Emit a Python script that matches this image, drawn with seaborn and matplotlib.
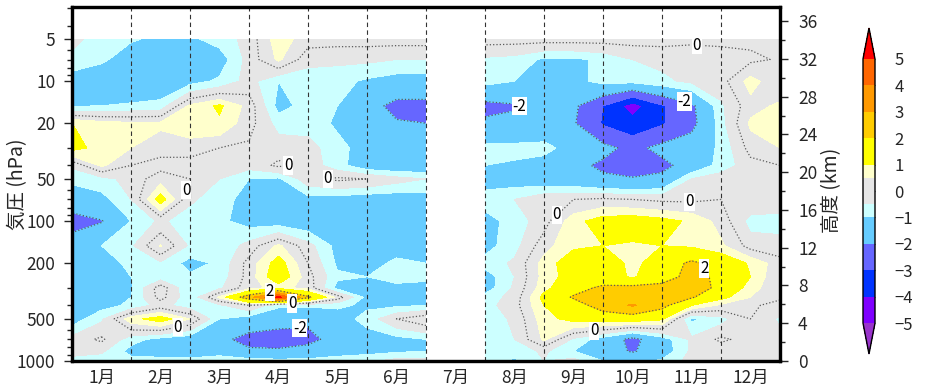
import numpy as np
import matplotlib
matplotlib.use("Agg")
import matplotlib.pyplot as plt
from matplotlib.ticker import FixedLocator, LogLocator, MultipleLocator, NullFormatter
import seaborn as sns

# ── data: anomaly (time x pressure), July missing ─────────────────
nan = np.nan
month_pos = [0.0, 0.5, 1.0, 1.5, 2.0, 2.5, 3.0, 3.5, 4.0, 4.5, 5.0, 5.5, 6.0,
             6.5, 7.0, 7.5, 8.0, 8.5, 9.0, 9.5, 10.0, 10.5, 11.0, 11.5, 12.0]
pressure = [5, 7, 10, 15, 20, 30, 40, 50, 70, 100, 150, 200, 250, 300, 350,
            400, 500, 700, 850, 1000]

a5 = [-0.3, -0.8, -0.95, -1.1, -1.1, -0.8, -0.3, 0.8, 0.2, 0.2, 0.2, 0.2, 0.2, nan,
      0.2, 0.2, 0.2, 0.2, 0.2, 0.2, 0.2, 0.1, 0.1, 0.1, 0.0]
a7 = [-0.7, -0.9, -1.3, -1.5, -1.5, -1.3, -0.3, 0.6, -0.3, -0.4, -0.4, -0.5, -0.5, nan,
      -0.6, -0.7, -1.1, -1.1, -0.9, -0.5, -0.4, -0.3, -0.2, -0.1, 0.05]
a10 = [-1.3, -1.5, -1.6, -1.5, -1.2, -0.9, -0.3, -1.0, -0.9, -0.8, -1.1, -1.3, -1.3, nan,
       -0.8, -1.0, -1.3, -1.2, -0.8, -0.8, -0.6, -0.4, -0.2, 0.7, 0.1]
a15 = [-1.05, -1.0, -0.9, -0.8, 0.6, 1.1, 0.3, -1.2, -0.8, -1.0, -1.6, -2.3, -2.3, nan,
       -2.3, -2.1, -1.5, -1.8, -3.0, -4.5, -3.1, -2.2, -0.6, 0.3, 0.6]
a20 = [1.0, 0.7, 0.6, 0.6, 1.0, 0.9, 0.2, -0.7, -0.7, -1.1, -1.6, -1.9, -2.0, nan,
       -1.8, -1.7, -1.5, -1.9, -3.1, -3.6, -3.1, -2.3, -0.7, 0.6, 0.8]
a30 = [1.2, 0.8, 0.5, 0.2, 0.1, 0.0, -0.1, -0.2, -0.3, -0.8, -1.3, -1.4, -1.4, nan,
       -0.8, -0.8, -0.8, -1.3, -1.7, -2.3, -1.7, -1.4, -0.9, 0.2, 0.5]
a40 = [-0.4, 0.6, 0.0, -0.2, -0.1, -0.2, -0.3, 0.1, -0.2, -0.8, -1.4, -1.5, -1.5, nan,
       -1.0, -1.1, -1.3, -1.7, -2.2, -2.6, -2.3, -1.5, -0.8, -0.2, 0.0]
a50 = [-0.9, -0.7, -0.3, 0.3, 0.0, -0.5, -1.0, -1.1, -0.2, 0.1, 0.0, -0.3, -0.5, nan,
       -1.2, -1.3, -1.4, -1.5, -1.8, -1.9, -1.7, -0.5, -0.2, -0.1, -0.2]
a70 = [-1.3, -1.2, -0.5, 1.3, -0.4, -0.8, -1.2, -1.3, -1.2, -1.3, -1.4, -1.4, -1.3, nan,
       -0.8, -0.5, -0.1, 0.0, 0.1, 0.0, -0.1, -0.1, 0.0, -0.1, -0.2]
a100 = [-2.5, -2.05, -1.0, -0.4, -0.8, -0.9, -1.2, -1.3, -1.4, -1.3, -1.3, -1.3, -1.3, nan,
        -1.2, -0.8, -0.2, 0.8, 1.3, 1.4, 1.2, 0.9, 0.3, -0.7, -0.7]
a150 = [-1.3, -1.0, -0.6, 0.55, -0.6, -0.9, -0.3, 0.6, -0.3, -1.2, -1.3, -1.2, -1.1, nan,
        -1.2, -0.7, 0.3, 0.9, 1.0, 0.9, 1.0, 0.9, 0.6, -0.2, -0.3]
a200 = [-1.4, -1.2, -0.9, -0.6, -1.2, -0.9, 0.2, 1.3, 0.0, -1.1, -1.2, -0.9, -1.0, nan,
        -0.8, -0.4, 0.7, 1.4, 1.5, 0.8, 1.4, 2.2, 1.6, 0.9, 0.2]
a250 = [-1.3, -1.4, -1.0, -0.8, -0.9, -0.8, 0.2, 1.5, 0.2, -0.9, -1.0, -0.6, -0.8, nan,
        -1.3, -0.5, 0.7, 1.3, 1.4, 0.9, 1.6, 2.3, 1.8, 1.0, 0.0]
a300 = [-1.2, -1.5, -1.1, 0.3, -1.0, -0.6, 0.3, 0.7, 0.3, -1.2, -1.3, -1.3, -1.3, nan,
        -1.3, -0.4, 0.8, 1.6, 2.2, 2.3, 2.3, 2.4, 1.8, 0.7, 0.1]
a350 = [-1.1, -1.3, -1.0, 0.2, -0.9, 0.6, 2.6, 5.3, 2.2, 0.3, -1.2, -1.2, -1.2, nan,
        -0.8, -0.3, 1.2, 2.1, 2.4, 2.5, 2.3, 2.1, 1.2, 0.5, 0.1]
a400 = [-1.0, -1.2, -0.9, -0.3, -0.8, -0.6, 0.0, -0.9, -0.9, -0.9, -1.1, -1.1, -1.0, nan,
        -0.7, -0.2, 1.0, 1.5, 2.5, 3.1, 2.3, 1.0, 0.4, 0.1, -0.2]
a500 = [-1.3, -0.6, 0.8, 1.3, 0.5, -1.0, -1.3, -1.5, -1.8, -1.3, -0.8, 0.0, 0.4, nan,
        -0.8, -0.4, 0.8, 1.2, 1.3, 1.4, 1.1, -1.1, -0.7, 0.0, -0.6]
a700 = [-0.3, 0.1, -0.8, -1.2, -1.4, -1.7, -2.4, -2.6, -2.3, -1.6, -1.3, -1.2, -1.0, nan,
        -0.8, -0.5, 0.6, -0.6, -1.3, -2.3, -1.3, -0.4, 0.1, -0.2, -0.3]
a850 = [-0.3, -0.4, -1.2, -1.3, -1.4, -1.5, -1.8, -1.8, -1.6, -1.3, -1.2, -1.1, -1.0, nan,
        -0.8, -0.8, -0.4, -1.0, -1.5, -2.1, -1.4, -0.4, -0.3, -0.2, -0.4]
a1000 = [-0.7, -0.8, -0.8, -0.8, -0.8, -0.4, -0.7, -0.8, -0.8, -0.7, -0.6, -0.3, -0.3, nan,
         -0.7, -1.1, -0.5, -0.3, -1.0, -1.2, -0.9, -0.3, -0.3, -0.5, -0.3]

month_labels = ["1月", "2月", "3月", "4月", "5月", "6月",
                "7月", "8月", "9月", "10月", "11月", "12月"]
pressure_ticks = [5, 10, 20, 50, 100, 200, 500, 1000]
height_ticks = [0, 4, 8, 12, 16, 20, 24, 28, 32, 36]

fill_levels = [-5, -4, -3, -2, -1, -0.5, 0.5, 1, 2, 3, 4, 5]
line_levels = [-2, 0, 2]
cbar_ticks = [-5, -4, -3, -2, -1, 0, 1, 2, 3, 4, 5]
fill_colors = ["#9933CC",   # under
               "#7F00FF", "#0033FF", "#6666FF", "#66CCFF", "#CCFFFF",
               "#E6E6E6",
               "#FFFFCC", "#FFFF00", "#FFCC00", "#FF9900", "#FF6600",
               "#FF0000"]   # over

# where the contour labels sit (month, hPa)
label_spots = [(10.59, 5.5), (3.75, 37), (4.32, 54), (1.78, 57), (1.78, 540),
               (3.73, 390), (10.47, 60), (8.41, 111), (8.86, 640),
               (7.64, 16), (10.36, 15), (3.86, 560),
               (3.36, 330), (10.81, 207)]

anomaly = np.array([a5, a7, a10, a15, a20, a30, a40, a50, a70, a100, a150, a200,
                    a250, a300, a350, a400, a500, a700, a850, a1000])

# ── style ──────────────────────────────────────────────────────────
sns.set_theme(style="ticks")
plt.rcParams["font.family"] = ["Liberation Sans Narrow", "Noto Sans CJK JP", "DejaVu Sans"]
plt.rcParams["axes.unicode_minus"] = True

fig = plt.figure(figsize=(9.33, 3.9), dpi=100)
ax = fig.add_axes([72 / 933, 29 / 390, 708 / 933, 354 / 390])
cax = fig.add_axes([863 / 933, 36 / 390, 12 / 933, 326 / 390])

X, Y = np.meshgrid(month_pos, pressure)
cf = ax.contourf(X, Y, anomaly, levels=fill_levels, colors=fill_colors, extend="both")
cs = ax.contour(X, Y, anomaly, levels=line_levels, colors="#5a5a5a",
                linewidths=0.9, linestyles=":")

# month boundaries
for m in range(1, 12):
    ax.axvline(m, color="#333333", lw=0.8, ls=(0, (4, 3)))

ax.set_yscale("log")
ax.set_ylim(1000, 2.95)
ax.set_xlim(0, 12)
ax.yaxis.set_major_locator(FixedLocator(pressure_ticks))
ax.set_yticklabels([str(p) for p in pressure_ticks])
ax.yaxis.set_minor_locator(LogLocator(base=10, subs=range(2, 10)))
ax.yaxis.set_minor_formatter(NullFormatter())
ax.set_xticks([m + 0.5 for m in range(12)])
ax.set_xticklabels(month_labels)
ax.tick_params(axis="x", length=0, pad=6, labelsize=12.5)
ax.tick_params(axis="y", which="major", length=6, width=1, labelsize=12.5, pad=6)
ax.tick_params(axis="y", which="minor", length=3.5, width=1)
ax.set_ylabel("気圧 (hPa)", fontsize=14, family=["Noto Sans CJK JP", "DejaVu Sans"])
ax.yaxis.set_label_coords(-0.062, 0.5)

labels = ax.clabel(cs, fmt="%d", fontsize=11, inline=True, inline_spacing=3,
                   manual=label_spots)
for t in labels:
    t.set_rotation(0)
    t.set_color("black")
    t.set_bbox(dict(facecolor="white", edgecolor="none", pad=0.6))

axr = ax.twinx()
axr.set_ylim(0, 37.5)
axr.set_yticks(height_ticks)
axr.yaxis.set_minor_locator(MultipleLocator(2))
axr.tick_params(axis="y", which="major", length=6, width=1, labelsize=12.5, pad=7)
axr.tick_params(axis="y", which="minor", length=3.5, width=1)
axr.set_ylabel("高度 (km)", fontsize=14, family=["Noto Sans CJK JP", "DejaVu Sans"])
axr.yaxis.set_label_coords(1.058, 0.483)

for a in (ax, axr):
    for s in a.spines.values():
        s.set_linewidth(2.3)
        s.set_color("black")

cb = fig.colorbar(cf, cax=cax, extend="both", extendfrac=0.117,
                  spacing="proportional", ticks=cbar_ticks)
cb.outline.set_linewidth(1)
cb.outline.set_edgecolor("black")
cax.tick_params(direction="in", length=3, width=0.8, color="#444444",
                left=True, right=True, labelsize=12, pad=14)

fig.savefig("out.png", dpi=100)
